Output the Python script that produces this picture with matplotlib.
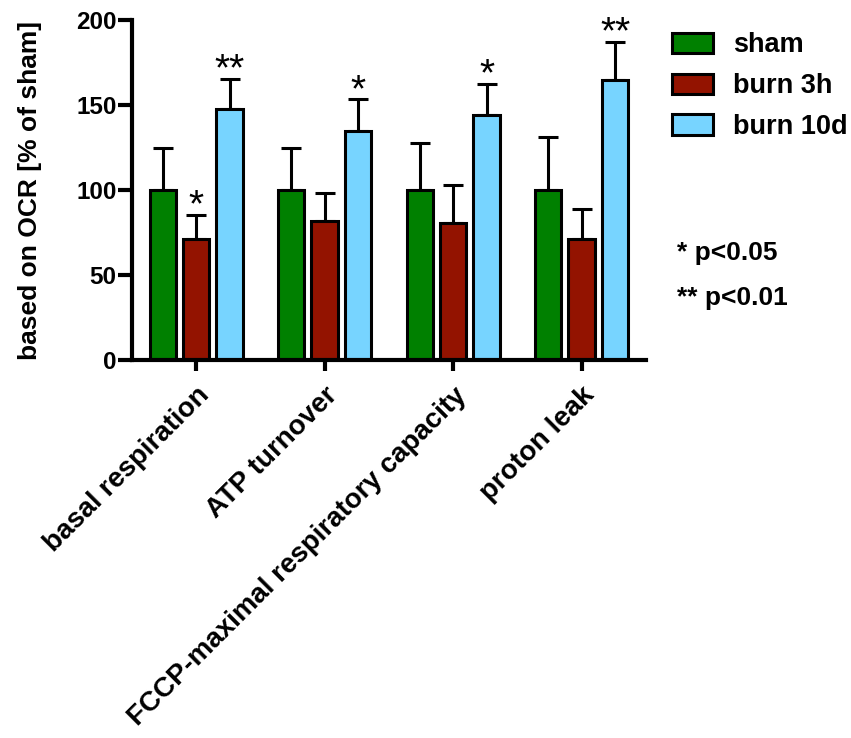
import matplotlib
matplotlib.use("Agg")
import matplotlib.pyplot as plt
import numpy as np

plt.rcParams['font.family'] = ['Liberation Sans', 'DejaVu Sans']
plt.rcParams['font.weight'] = 'bold'

categories = ['basal respiration', 'ATP turnover',
              'FCCP-maximal respiratory capacity', 'proton leak']
groups = ['sham', 'burn 3h', 'burn 10d']
sham = [100, 100, 100, 100]
sham_err = [24.5, 24.5, 27.8, 31.4]
burn3h = [71, 81.8, 80.4, 71]
burn3h_err = [14.3, 16.6, 22.3, 17.6]
burn10d = [147.6, 134.7, 144.1, 164.5]
burn10d_err = [17.7, 18.6, 18.3, 22.8]
stars_3h = ['*', '', '', '']
stars_10d = ['**', '*', '*', '**']

colors = ['#008000', '#931300', '#77D4FF']

fig = plt.figure(figsize=(8.51, 7.38), dpi=100)
ax = fig.add_axes([0.155, 0.512, 0.604, 0.461])

x = np.arange(len(categories))
offset = 0.26
width = 0.205
series = [(sham, sham_err), (burn3h, burn3h_err), (burn10d, burn10d_err)]
for i, (vals, errs) in enumerate(series):
    pos = x + (i - 1) * offset
    ax.bar(pos, vals, width, color=colors[i], edgecolor='black',
           linewidth=2.2, label=groups[i], zorder=2)
    ax.errorbar(pos, vals, yerr=[np.zeros(len(errs)), errs], fmt='none',
                ecolor='black', elinewidth=2.2, capsize=7, capthick=2.2,
                zorder=1)

# significance stars
for i in range(len(categories)):
    if stars_3h[i]:
        ax.text(x[i], burn3h[i] + burn3h_err[i] - 1, stars_3h[i],
                ha='center', va='baseline', fontsize=28, fontweight='normal')
    if stars_10d[i]:
        ax.text(x[i] + offset, burn10d[i] + burn10d_err[i] - 1, stars_10d[i],
                ha='center', va='baseline', fontsize=28, fontweight='normal')

ax.set_xlim(-0.5, 3.5)
ax.set_ylim(0, 200)
ax.set_yticks([0, 50, 100, 150, 200])
ax.set_xticks(x)
ax.set_xticklabels(categories, rotation=45, ha='right',
                   rotation_mode='anchor', fontsize=20, fontweight='bold')
ax.tick_params(axis='y', labelsize=17.5, width=3, length=10, pad=1)
ax.tick_params(axis='x', width=3, length=8, pad=8)
for side in ['top', 'right']:
    ax.spines[side].set_visible(False)
for side in ['left', 'bottom']:
    ax.spines[side].set_linewidth(3)
ax.set_ylabel('based on OCR [% of sham]', fontsize=19, fontweight='bold')
ax.yaxis.set_label_coords(-0.175, 0.5)

fig.legend(loc='upper left', bbox_to_anchor=(0.79, 0.956), frameon=False,
           fontsize=19.5, handlelength=1.5, handleheight=0.8,
           labelspacing=0.55, handletextpad=0.75, borderpad=0,
           borderaxespad=0)

fig.text(0.795, 0.657, '* p<0.05', fontsize=19, va='center')
fig.text(0.795, 0.596, '** p<0.01', fontsize=19, va='center')

fig.savefig('out.png', dpi=100)
